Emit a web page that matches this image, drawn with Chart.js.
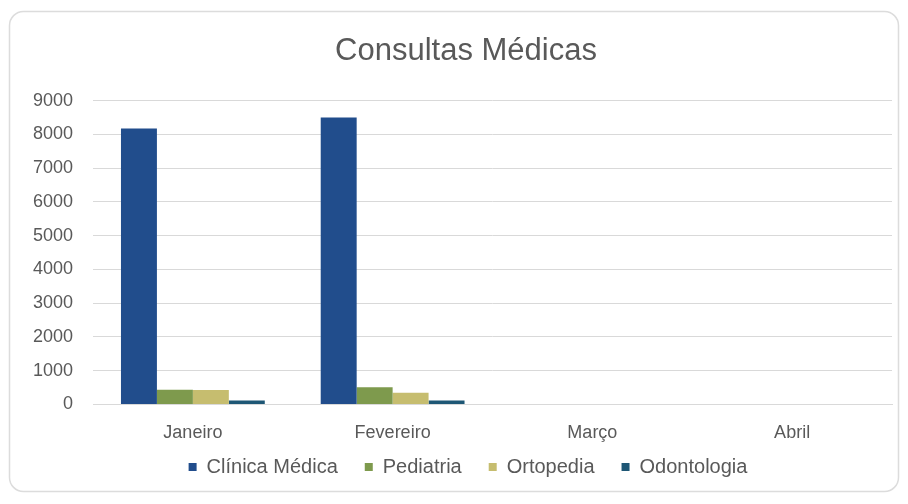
<!DOCTYPE html>
<html>
<head>
<meta charset="utf-8">
<script src="https://cdn.jsdelivr.net/npm/chart.js@4/dist/chart.umd.min.js"></script>
<style>
  html, body { margin: 0; padding: 0; background: #ffffff; }
  #wrap { position: relative; width: 908px; height: 504px; }
</style>
</head>
<body>
<div id="wrap"><canvas id="chart" width="908" height="504"></canvas></div>
<script>
// Consultas por especialidade, por mês
const meses = ['Janeiro', 'Fevereiro', 'Março', 'Abril'];
const clinicaMedica = [8180, 8500, null, null];
const pediatria = [440, 510, null, null];
const ortopedia = [430, 350, null, null];
const odontologia = [120, 120, null, null];
const yTicks = [0, 1000, 2000, 3000, 4000, 5000, 6000, 7000, 8000, 9000];

const textColor = '#595959';
const gridColor = '#d9d9d9';
const fontFamily = '"Liberation Sans", Arial, sans-serif';

// rounded frame around the whole chart
const framePlugin = {
  id: 'frame',
  beforeDraw(chart) {
    const ctx = chart.ctx;
    ctx.save();
    ctx.fillStyle = '#ffffff';
    ctx.fillRect(0, 0, chart.width, chart.height);
    ctx.beginPath();
    ctx.roundRect(9.5, 11.5, 889, 480, 14);
    ctx.strokeStyle = '#dcdcdc';
    ctx.lineWidth = 1.5;
    ctx.stroke();
    ctx.restore();
  }
};

// place title and legend: slightly right of centre, legend pulled up under the axis labels
const boxPlacement = {
  id: 'boxPlacement',
  afterLayout(chart) {
    const lg = chart.legend;
    if (lg) {
      const h = lg.height;
      lg.left += 12;
      lg.right += 12;
      lg.top = 430;
      lg.bottom = 430 + h;
    }
    const t = chart.titleBlock;
    if (t) {
      t.left += 10;
      t.right += 10;
    }
  }
};

new Chart(document.getElementById('chart'), {
  type: 'bar',
  data: {
    labels: meses,
    datasets: [
      { label: 'Clínica Médica', data: clinicaMedica, backgroundColor: '#214d8c' },
      { label: 'Pediatria', data: pediatria, backgroundColor: '#7e9a4d' },
      { label: 'Ortopedia', data: ortopedia, backgroundColor: '#c6bd6f' },
      { label: 'Odontologia', data: odontologia, backgroundColor: '#1e5775' }
    ]
  },
  options: {
    responsive: false,
    animation: false,
    layout: { padding: { left: 20, right: 16, top: 0, bottom: 0.5 } },
    datasets: { bar: { categoryPercentage: 0.72, barPercentage: 1.0 } },
    plugins: {
      title: {
        display: true,
        text: 'Consultas Médicas',
        color: textColor,
        font: { family: fontFamily, size: 31, weight: 'normal' },
        padding: { top: 33, bottom: 30.5 }
      },
      legend: {
        position: 'bottom',
        labels: {
          color: textColor,
          font: { family: fontFamily, size: 20 },
          boxWidth: 8,
          boxHeight: 8,
          padding: 27
        }
      },
      tooltip: { enabled: false }
    },
    scales: {
      x: {
        afterFit(axis) { axis.height = 42; },
        grid: { display: false, drawTicks: false },
        border: { display: true, color: gridColor },
        ticks: { color: textColor, font: { family: fontFamily, size: 18 }, padding: 18 }
      },
      y: {
        min: 0,
        max: 9000,
        afterBuildTicks(axis) { axis.ticks = yTicks.map(v => ({ value: v })); },
        afterFit(axis) { axis.width = 73; },
        grid: { color: gridColor, drawTicks: false },
        border: { display: false },
        ticks: {
          color: textColor,
          font: { family: fontFamily, size: 18 },
          padding: 20,
          callback: v => String(v)
        }
      }
    }
  },
  plugins: [framePlugin, boxPlacement]
});
</script>
</body>
</html>
